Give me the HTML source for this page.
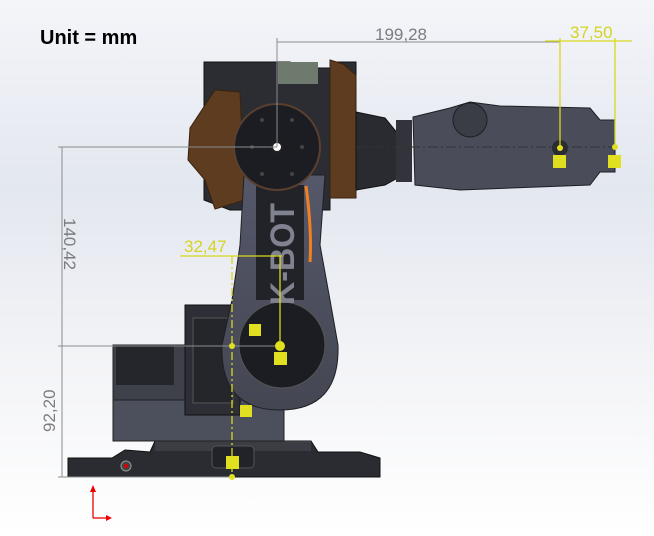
<!DOCTYPE html>
<html><head><meta charset="utf-8"><style>
html,body{margin:0;padding:0}
body{width:654px;height:536px;overflow:hidden}
svg{display:block}
</style></head><body>
<svg width="654" height="536" viewBox="0 0 654 536" xmlns="http://www.w3.org/2000/svg" font-family="Liberation Sans, sans-serif">
<defs>
<linearGradient id="bg" x1="0" y1="0" x2="0" y2="1">
<stop offset="0" stop-color="#f4f5f9"/><stop offset="0.35" stop-color="#e3e7ef"/><stop offset="0.65" stop-color="#f2f3f6"/><stop offset="1" stop-color="#ffffff"/>
</linearGradient>
<linearGradient id="arm" x1="0" y1="0" x2="0" y2="1">
<stop offset="0" stop-color="#55586a"/><stop offset="1" stop-color="#444652"/>
</linearGradient>
</defs>
<rect width="654" height="536" fill="url(#bg)"/>
<text x="40" y="44" font-size="20" font-weight="bold" fill="#000">Unit = mm</text>

<!-- base plate -->
<path d="M68 458 L112 458 L125 450 L150 452 L155 441 L311 441 L318 452 L360 452 L380 458 L380 477 L68 477 Z" fill="#2b2c32" stroke="#111" stroke-width="1"/>
<rect x="155" y="441" width="156" height="10" fill="#3c3d44"/>
<rect x="212" y="446" width="42" height="22" rx="4" fill="#22232a" stroke="#555"/>
<circle cx="126" cy="466" r="5" fill="#444" stroke="#999"/><circle cx="126" cy="466" r="2" fill="#d00"/>
<!-- base block -->
<rect x="113" y="345" width="72" height="96" fill="#3e404a" stroke="#222"/>
<rect x="116" y="345" width="58" height="40" fill="#25262c"/>
<rect x="113" y="400" width="171" height="41" fill="#4c4f5c" stroke="#222"/>
<rect x="185" y="305" width="55" height="110" fill="#2e2f36" stroke="#111"/>
<rect x="193" y="318" width="40" height="85" fill="#25262c" stroke="#555"/>
<!-- shoulder -->
<path d="M204 62 L290 62 L290 68 L330 68 L330 62 L356 62 L356 198 L330 198 L330 210 L230 210 L204 200 Z" fill="#2c2d33" stroke="#111"/>
<rect x="278" y="62" width="40" height="22" fill="#6f7a6e"/>
<path d="M330 60 L343 64 L356 75 L356 198 L330 198 Z" fill="#5e3c1f" stroke="#3a220e"/>
<path d="M190 128 L215 90 L240 92 L245 200 L215 209 L205 180 L188 160 Z" fill="#5e3c1f" stroke="#3a220e"/>
<!-- forearm -->
<path d="M356 112 L385 118 L403 140 L403 175 L385 185 L356 190 Z" fill="#2a2b31" stroke="#111"/>
<rect x="396" y="120" width="16" height="62" fill="#33343b"/>
<path d="M413 117 L450 108 L470 102 L500 106 L590 108 L600 120 L615 120 L615 172 L600 172 L590 185 L460 190 L415 185 Z" fill="#4a4d59" stroke="#1e1f24"/>
<circle cx="470" cy="120" r="17" fill="#3a3c46" stroke="#1e1f24"/>
<circle cx="560" cy="148" r="8" fill="#2a2b31"/>
<!-- upper arm -->
<path d="M244 175 L325 175 L320 245 L330 300 L338 345 Q340 410 280 410 Q220 410 222 345 L232 300 L240 245 Z" fill="url(#arm)" stroke="#1e1f24"/>
<path d="M256 185 L304 185 L304 300 L256 300 Z" fill="#222329"/>
<circle cx="282" cy="345" r="43" fill="#1c1d22" stroke="#555"/>
<text transform="translate(294 305) rotate(-90)" font-size="34" fill="#808290" font-weight="bold" textLength="102" lengthAdjust="spacingAndGlyphs">K-BOT</text>
<path d="M306 186 Q312 230 310 262" stroke="#f08020" stroke-width="3" fill="none"/>
<!-- shoulder disk -->
<circle cx="277" cy="147" r="43" fill="#1c1d22" stroke="#5a4030" stroke-width="2"/>
<circle cx="277" cy="147" r="5" fill="#fff" stroke="#222" stroke-width="2"/>
<g fill="#444"><circle cx="262" cy="120" r="2"/><circle cx="292" cy="120" r="2"/><circle cx="252" cy="147" r="2"/><circle cx="302" cy="147" r="2"/><circle cx="262" cy="174" r="2"/><circle cx="292" cy="174" r="2"/></g>

<!-- grey dims -->
<g stroke="#8a8c90" stroke-width="1" fill="none">
<line x1="58" y1="147" x2="277" y2="147"/>
<line x1="58" y1="346" x2="282" y2="346"/>
<line x1="58" y1="477" x2="232" y2="477"/>
<line x1="62" y1="147" x2="62" y2="477"/>
<line x1="277" y1="38" x2="277" y2="147"/>
<line x1="277" y1="42" x2="560" y2="42"/>
<line x1="356" y1="147" x2="620" y2="147" stroke-dasharray="10 3 2 3" stroke="#333"/>
</g>
<text x="375" y="40" font-size="17" fill="#7a7c80">199,28</text>
<text transform="translate(64 218) rotate(90)" font-size="17" fill="#7a7c80">140,42</text>
<text transform="translate(55 432) rotate(-90)" font-size="17" fill="#7a7c80">92,20</text>
<!-- yellow dims -->
<g stroke="#d8d820" stroke-width="1.3" fill="none">
<line x1="560" y1="38" x2="560" y2="150"/>
<line x1="615" y1="38" x2="615" y2="147"/>
<line x1="545" y1="41" x2="632" y2="41"/>
<line x1="180" y1="256" x2="282" y2="256"/>
<line x1="232" y1="256" x2="232" y2="477" stroke-dasharray="8 3 2 3"/>
<line x1="280" y1="256" x2="280" y2="345"/>
</g>
<text x="570" y="38" font-size="17" fill="#d4d420">37,50</text>
<text x="184" y="252" font-size="17" fill="#d4d420">32,47</text>
<g fill="#e0e020">
<circle cx="280" cy="346" r="5"/><circle cx="560" cy="148" r="3"/><circle cx="615" cy="147" r="3"/><circle cx="232" cy="346" r="3"/><circle cx="232" cy="477" r="3"/>
<rect x="553" y="155" width="13" height="13"/><rect x="608" y="155" width="13" height="13"/><rect x="274" y="352" width="13" height="13"/><rect x="226" y="456" width="13" height="13"/><rect x="249" y="324" width="12" height="12"/><rect x="240" y="405" width="12" height="12"/>
</g>
<!-- axis -->
<g stroke="#e00" stroke-width="1.3"><line x1="93" y1="518" x2="93" y2="490"/><line x1="93" y1="518" x2="108" y2="518"/></g>
<path d="M90 492 L93 485 L96 492 Z M106 515 L112 518 L106 521 Z" fill="#e00"/>
</svg>
</body></html>
